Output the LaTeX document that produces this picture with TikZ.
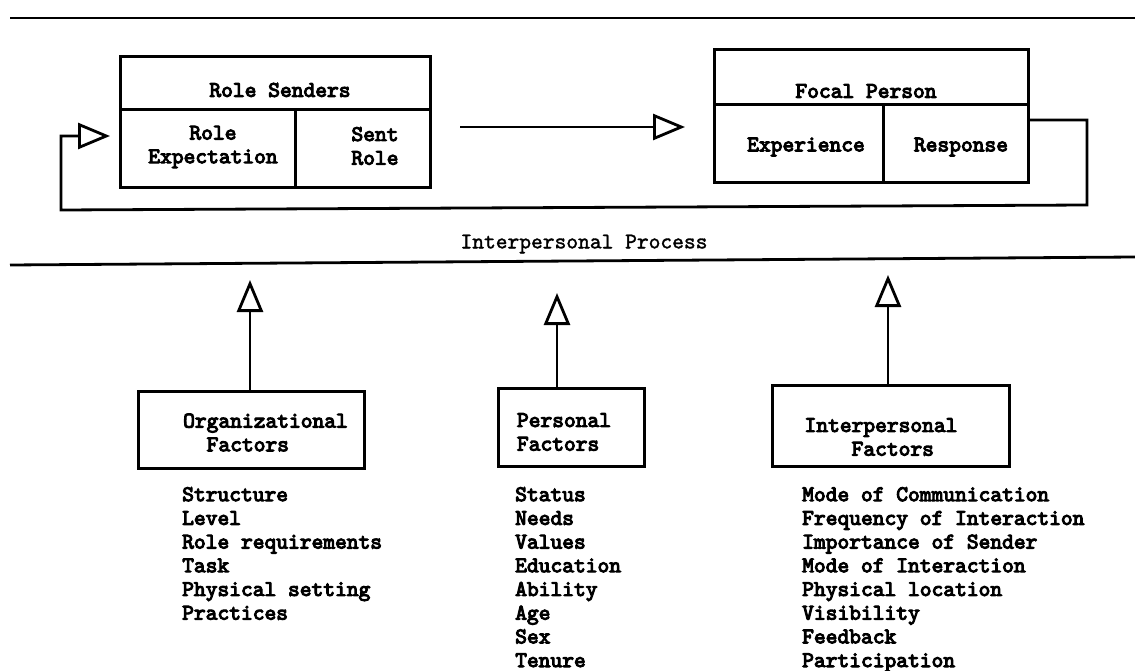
\documentclass[tikz,border=0pt]{standalone}
\usepackage{fontspec}
\newfontfamily\monob{lmmono10-regular.otf}[FakeBold=4.5]
\newfontfamily\monom{lmmono10-regular.otf}[FakeBold=1.5]
\usetikzlibrary{arrows.meta}
\begin{document}
\begin{tikzpicture}[x=1pt,y=-1pt,
  box/.style={draw, line width=2.8pt, inner sep=0pt, anchor=north west},
  lbl/.style={font=\monob\fontsize{22.4}{23.7}\selectfont, inner sep=0pt},
  lbll/.style={font=\monom\fontsize{22.4}{23.7}\selectfont, inner sep=0pt},
  lst/.style={lbl, anchor=north west, align=left},
  ln/.style={line width=2.8pt},
  arr/.style={ln, -{Triangle[open, length=32pt, width=26pt, line width=2.8pt]}}]
\useasboundingbox[fill=white] (0,0) rectangle (1135,671);

% separator lines
\draw[ln] (10,18) -- (1135,18);
\draw[ln] (10,265) -- (1135,257);

% Role Senders box
\node[box, minimum width=310pt, minimum height=53pt] (rsT) at (119,55) {};
\node[box, minimum width=175pt, minimum height=78pt] (rsE) at (119,108) {};
\node[box, minimum width=135pt, minimum height=78pt] (rsS) at (294,108) {};
\node[lbl] (rsTt) at (280,90) {Role Senders};
\node[lbl, align=center] (rsEt) at (213,147) {Role\\Expectation};
\node[lbl, align=center] (rsSt) at (375,146) {Sent\\Role};

% Focal Person box
\node[box, minimum width=314pt, minimum height=55pt] (fpT) at (713,48) {};
\node[box, minimum width=169pt, minimum height=78pt] (fpE) at (713,103) {};
\node[box, minimum width=145pt, minimum height=78pt] (fpR) at (882,103) {};
\node[lbl] (fpTt) at (866,91) {Focal Person};
\node[lbl] (fpEt) at (806,147) {Experience};
\node[lbl] (fpRt) at (961,147) {Response};

\node[lbll] (ipp) at (584,244) {Interpersonal Process};

% arrows in the process
\coordinate (mA) at (460,127);
\coordinate (mB) at (685,127);
\draw[arr] (mA) -- (mB);

\coordinate (fb1) at (1087,120);
\coordinate (fb2) at (1087,205);
\coordinate (fb3) at (61,210);
\coordinate (fb4) at (61,136);
\coordinate (fbT) at (110,136);
\draw[arr] (fpR.east |- fb1) -- (fb1) -- (fb2) -- (fb3) -- (fb4) -- (fbT);

% factor boxes
\node[box, minimum width=226pt, minimum height=77pt] (org) at (137,390) {};
\node[box, minimum width=146pt, minimum height=78pt] (per) at (497,387) {};
\node[box, minimum width=237pt, minimum height=81pt] (int) at (771,384) {};

\node[lbl, align=left] (orgt) at (265.5,432.5) {Organizational\\~~Factors};
\node[lbl, align=left] (pert) at (564,432) {Personal\\Factors};
\node[lbl, align=left] (intt) at (881,437) {Interpersonal\\~~~~Factors};

\coordinate (tO) at (250,280);
\coordinate (tP) at (557,293);
\coordinate (tI) at (888,275);
\draw[arr] (tO |- org.north) -- (tO);
\draw[arr] (tP |- per.north) -- (tP);
\draw[arr] (tI |- int.north) -- (tI);

% lists
\node[lst] (orgl) at (182,487) {Structure\\Level\\Role requirements\\Task\\Physical setting\\Practices};
\node[lst] (perl) at (515,487) {Status\\Needs\\Values\\Education\\Ability\\Age\\Sex\\Tenure};
\node[lst] (intl) at (802,487) {Mode of Communication\\Frequency of Interaction\\Importance of Sender\\Mode of Interaction\\Physical location\\Visibility\\Feedback\\Participation};
\end{tikzpicture}
\end{document}
